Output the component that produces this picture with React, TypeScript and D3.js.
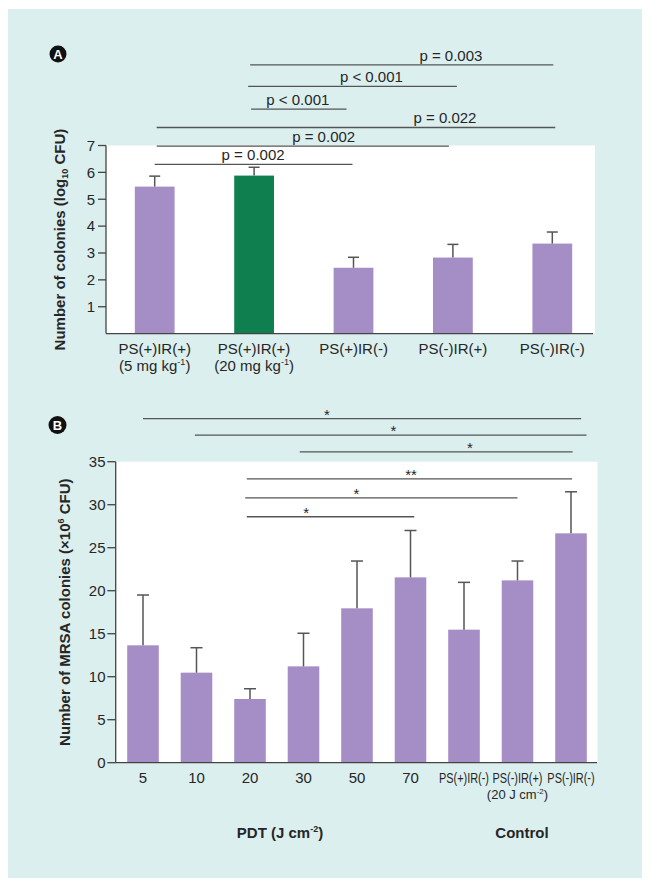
import React from "react";
import * as d3 from "d3";

// ---------- Panel A data ----------
const categoriesA = ["PS(+)IR(+)", "PS(+)IR(+)", "PS(+)IR(-)", "PS(-)IR(+)", "PS(-)IR(-)"];
const doseA = ["5", "20", "", "", ""];
const valuesA = [5.47, 5.88, 2.45, 2.83, 3.35];
const errorsA = [0.39, 0.31, 0.39, 0.49, 0.43];
const highlightA = [false, true, false, false, false];
const ticksA = [1, 2, 3, 4, 5, 6, 7];
const sigFromA = [0.96, 0.94, 0.97, 0.02, 0.02, 0.0];
const sigToA = [4.01, 3.04, 1.93, 4.03, 2.96, 1.99];
const sigLevelA = [10.0, 9.2, 8.35, 7.67, 6.98, 6.3];
const sigLabelA = ["p = 0.003", "p < 0.001", "p < 0.001", "p = 0.022", "p = 0.002", "p = 0.002"];
const sigLabelAtA = [2.98, 2.18, 1.44, 2.92, 1.7, 0.99];

// ---------- Panel B data ----------
const categoriesB = ["5", "10", "20", "30", "50", "70", "PS(+)IR(-)", "PS(-)IR(+)", "PS(-)IR(-)"];
const valuesB = [13.65, 10.47, 7.41, 11.2, 17.95, 21.55, 15.47, 21.2, 26.67];
const errorsB = [5.85, 2.9, 1.19, 3.85, 5.5, 5.45, 5.5, 2.25, 4.83];
const ticksB = [0, 5, 10, 15, 20, 25, 30, 35];
const sigFromB = [0.0, 0.97, 2.93, 1.94, 1.91, 1.94];
const sigToB = [8.19, 8.29, 8.03, 8.02, 7.0, 5.07];
const sigLevelB = [40.0, 38.1, 36.15, 33.0, 30.8, 28.6];
const sigLabelB = ["*", "*", "*", "**", "*", "*"];
const sigLabelAtB = [3.44, 4.68, 6.11, 5.01, 3.99, 3.05];

const FONT = "'Liberation Sans', Arial, Helvetica, sans-serif";
const PURPLE = "#a58dc5";
const GREEN = "#0f7f4f";
const BG = "#dcefef";
const INK = "#262626";
const LINE = "#555";

export default function App() {
  // Panel A scales
  const xA = d3.scaleBand<number>().domain(d3.range(categoriesA.length)).range([105, 602]).paddingInner(0.6).paddingOuter(0.3);
  const yA = d3.scaleLinear().domain([0, 7]).range([333.6, 145.5]);
  const cxA = d3.scaleLinear().domain([0, categoriesA.length - 1])
    .range([xA(0)! + xA.bandwidth() / 2, xA(categoriesA.length - 1)! + xA.bandwidth() / 2]);

  // Panel B scales
  const xB = d3.scaleBand<number>().domain(d3.range(categoriesB.length)).range([116.25, 597.75]).paddingInner(0.41).paddingOuter(0.205);
  const yB = d3.scaleLinear().domain([0, 35]).range([762.7, 461.7]);
  const cxB = d3.scaleLinear().domain([0, categoriesB.length - 1])
    .range([xB(0)! + xB.bandwidth() / 2, xB(categoriesB.length - 1)! + xB.bandwidth() / 2]);

  const capA = 5.5;
  const capB = 6;

  return (
    <svg width={651} height={888} style={{ position: "absolute", left: 0, top: 0, display: "block" }} fontFamily={FONT}>
      <rect x={0} y={0} width={651} height={888} fill="#ffffff" />
      <rect x={8} y={9} width={634} height={869} fill={BG} />

      {/* ================= Panel A ================= */}
      <rect x={106} y={yA(7)} width={489} height={yA(0) - yA(7)} fill="#ffffff" />
      <circle cx={58} cy={54} r={8.5} fill="#111" />
      <text x={58} y={59} textAnchor="middle" fontSize={13} fontWeight="bold" fill="#fff">A</text>

      {valuesA.map((v, i) => (
        <rect key={"ba" + i} x={xA(i)} y={yA(v)} width={xA.bandwidth()} height={yA(0) - yA(v)} fill={highlightA[i] ? GREEN : PURPLE} />
      ))}
      {valuesA.map((v, i) => {
        const cx = xA(i)! + xA.bandwidth() / 2;
        return (
          <g key={"ea" + i} stroke={LINE} strokeWidth={1.5}>
            <line x1={cx} x2={cx} y1={yA(v)} y2={yA(v + errorsA[i])} />
            <line x1={cx - capA} x2={cx + capA} y1={yA(v + errorsA[i])} y2={yA(v + errorsA[i])} />
          </g>
        );
      })}

      {/* axes A */}
      <line x1={106} x2={106} y1={yA(0)} y2={yA(7)} stroke="#444" strokeWidth={1.3} />
      <line x1={106} x2={593} y1={yA(0)} y2={yA(0)} stroke="#444" strokeWidth={1.3} />
      {ticksA.map((t) => (
        <g key={"ta" + t}>
          <line x1={98} x2={106} y1={yA(t)} y2={yA(t)} stroke="#444" strokeWidth={1.3} />
          <text x={95} y={yA(t) + 5.3} textAnchor="end" fontSize={15} fill={INK}>{t}</text>
        </g>
      ))}
      {categoriesA.map((c, i) => {
        const cx = xA(i)! + xA.bandwidth() / 2;
        return (
          <g key={"la" + i}>
            <text x={cx} y={354} textAnchor="middle" fontSize={15} fill={INK}>{c}</text>
            {doseA[i] && (
              <text x={cx} y={370.5} textAnchor="middle" fontSize={15} fill={INK}>
                {"(" + doseA[i] + " mg kg"}
                <tspan fontSize={9} dy={-6}>-1</tspan>
                <tspan dy={6}>)</tspan>
              </text>
            )}
          </g>
        );
      })}
      <text transform={`translate(65, ${(yA(0) + yA(7)) / 2}) rotate(-90)`} textAnchor="middle" fontSize={15} fontWeight="bold" fill={INK}>
        {"Number of colonies (log"}
        <tspan fontSize={9} dy={3}>10</tspan>
        <tspan dy={-3}>{" CFU)"}</tspan>
      </text>

      {sigLabelA.map((lab, i) => (
        <g key={"sa" + i}>
          <line x1={cxA(sigFromA[i])} x2={cxA(sigToA[i])} y1={yA(sigLevelA[i])} y2={yA(sigLevelA[i])} stroke={LINE} strokeWidth={1.3} />
          <text x={cxA(sigLabelAtA[i])} y={yA(sigLevelA[i]) - 4.2} textAnchor="middle" fontSize={15} fill={INK}>{lab}</text>
        </g>
      ))}

      {/* ================= Panel B ================= */}
      <rect x={116} y={yB(35)} width={481.5} height={yB(0) - yB(35)} fill="#ffffff" />
      <circle cx={57.5} cy={425} r={9} fill="#111" />
      <text x={57.5} y={430} textAnchor="middle" fontSize={13} fontWeight="bold" fill="#fff">B</text>

      {valuesB.map((v, i) => (
        <rect key={"bb" + i} x={xB(i)} y={yB(v)} width={xB.bandwidth()} height={yB(0) - yB(v)} fill={PURPLE} />
      ))}
      {valuesB.map((v, i) => {
        const cx = xB(i)! + xB.bandwidth() / 2;
        return (
          <g key={"eb" + i} stroke={LINE} strokeWidth={1.5}>
            <line x1={cx} x2={cx} y1={yB(v)} y2={yB(v + errorsB[i])} />
            <line x1={cx - capB} x2={cx + capB} y1={yB(v + errorsB[i])} y2={yB(v + errorsB[i])} />
          </g>
        );
      })}

      {/* axes B */}
      <line x1={115.7} x2={115.7} y1={yB(0)} y2={yB(35)} stroke="#444" strokeWidth={1.3} />
      <line x1={115.7} x2={597} y1={yB(0)} y2={yB(0)} stroke="#444" strokeWidth={1.3} />
      {ticksB.map((t) => (
        <g key={"tb" + t}>
          <line x1={107.3} x2={115.7} y1={yB(t)} y2={yB(t)} stroke="#444" strokeWidth={1.3} />
          <text x={105.5} y={yB(t) + 5.3} textAnchor="end" fontSize={15} fill={INK}>{t}</text>
        </g>
      ))}
      {categoriesB.map((c, i) => {
        const cx = xB(i)! + xB.bandwidth() / 2;
        const isText = c.startsWith("PS");
        return isText ? (
          <g key={"lb" + i} transform={`translate(${cx}, 783.3) scale(0.78, 1)`}>
            <text x={0} y={0} textAnchor="middle" fontSize={14} fill={INK}>{c}</text>
          </g>
        ) : (
          <text key={"lb" + i} x={cx} y={783.3} textAnchor="middle" fontSize={15} fill={INK}>{c}</text>
        );
      })}
      <text x={xB(7)! + xB.bandwidth() / 2} y={798.5} textAnchor="middle" fontSize={13} fill={INK}>
        {"(20 J cm"}
        <tspan fontSize={8} dy={-5}>-2</tspan>
        <tspan dy={5}>)</tspan>
      </text>
      <text x={280} y={838} textAnchor="middle" fontSize={15} fontWeight="bold" fill={INK}>
        {"PDT (J cm"}
        <tspan fontSize={9} dy={-6}>-2</tspan>
        <tspan dy={6}>)</tspan>
      </text>
      <text x={522} y={838} textAnchor="middle" fontSize={15} fontWeight="bold" fill={INK}>Control</text>
      <text transform={`translate(70, ${(yB(0) + yB(35)) / 2}) rotate(-90)`} textAnchor="middle" fontSize={15} fontWeight="bold" fill={INK}>
        {"Number of MRSA colonies (\u00d710"}
        <tspan fontSize={9} dy={-6}>6</tspan>
        <tspan dy={6}>{" CFU)"}</tspan>
      </text>

      {sigLabelB.map((lab, i) => (
        <g key={"sb" + i}>
          <line x1={cxB(sigFromB[i])} x2={cxB(sigToB[i])} y1={yB(sigLevelB[i])} y2={yB(sigLevelB[i])} stroke={LINE} strokeWidth={1.3} />
          <text x={cxB(sigLabelAtB[i])} y={yB(sigLevelB[i]) + 1} textAnchor="middle" fontSize={15} fill={INK}>{lab}</text>
        </g>
      ))}
    </svg>
  );
}
